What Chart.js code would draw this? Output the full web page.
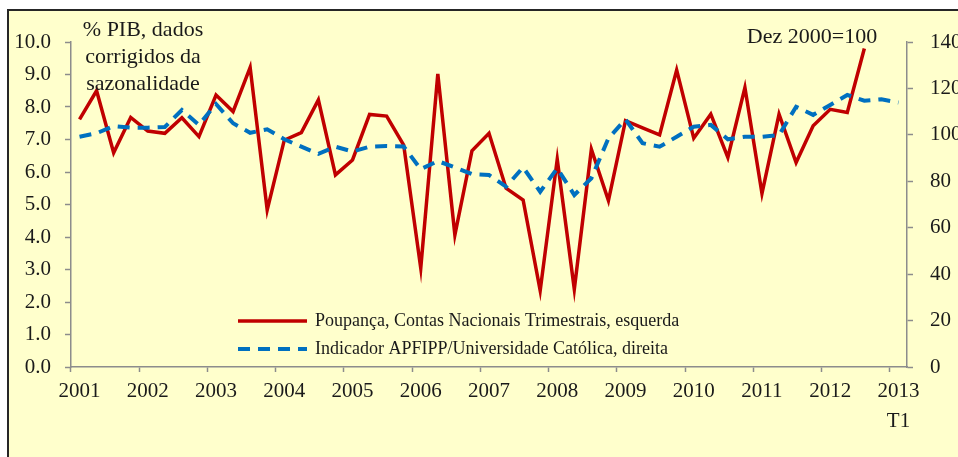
<!DOCTYPE html>
<html>
<head>
<meta charset="utf-8">
<title>Poupança</title>
<script src="https://cdn.jsdelivr.net/npm/chart.js@4.4.1/dist/chart.umd.min.js"></script>
<style>
  body { margin: 0; background: #fff; }
</style>
</head>
<body>
<canvas id="grafico" width="958" height="457"></canvas>
<script>
// anos e trimestres (eixo x)
const anos = ['2001','2002','2003','2004','2005','2006','2007','2008','2009','2010','2011','2012','2013'];
const trimestres = ['T1','T2','T3','T4'];
const categorias = anos.flatMap(a => trimestres.map(t => a + ' ' + t)).slice(0, 49);

// Poupança, Contas Nacionais Trimestrais (% PIB), eixo esquerdo
const poupanca = [7.62, 8.50, 6.59, 7.68, 7.26, 7.19, 7.67, 7.09, 8.37, 7.86,
  9.22, 4.83, 6.98, 7.21, 8.22, 5.91, 6.37, 7.77, 7.72, 6.83,
  3.04, 9.02, 4.06, 6.65, 7.19, 5.50, 5.14, 2.35, 6.39, 2.39,
  6.70, 5.12, 7.58, 7.36, 7.14, 9.14, 7.04, 7.78, 6.45, 8.60,
  5.34, 7.78, 6.29, 7.42, 7.93, 7.83, 9.80];

// Indicador APFIPP/Universidade Católica (Dez 2000=100), eixo direito
const indicador = [99.2, 100.7, 103.8, 103.1, 103.1, 103.4, 110.7, 104.3, 113.3, 105.0,
  100.9, 102.4, 98.1, 94.9, 91.8, 94.9, 92.8, 94.9, 95.2, 95.0,
  85.2, 88.7, 86.0, 83.1, 82.7, 77.7, 86.0, 75.5, 85.6, 74.1,
  81.3, 98.5, 106.7, 96.4, 94.9, 99.2, 103.5, 104.3, 98.1, 99.2,
  99.2, 99.9, 112.1, 108.6, 112.9, 117.2, 114.7, 115.3, 113.9];

const nomesSeries = ['Poupança, Contas Nacionais Trimestrais, esquerda',
                     'Indicador APFIPP/Universidade Católica, direita'];
const tituloEsq = ['% PIB, dados', 'corrigidos da', 'sazonalidade'];
const tituloDir = 'Dez 2000=100';

const VERMELHO = '#C00000';
const AZUL = '#0070C0';
const CINZA = '#8c8c8c';
const TEXTO = '#1a1a1a';
const FONTE = "'Liberation Serif', 'DejaVu Serif', serif";
const TRACEJADO = [12, 8];

// fundo amarelo com moldura
const fundo = {
  id: 'fundo',
  beforeDraw(chart) {
    const c = chart.ctx;
    c.save();
    c.fillStyle = '#ffffff';
    c.fillRect(0, 0, chart.width, chart.height);
    c.fillStyle = '#FFFFCC';
    c.fillRect(8, 10, chart.width, chart.height);
    c.strokeStyle = '#262626';
    c.lineWidth = 2;
    c.beginPath();
    c.moveTo(8, chart.height + 5);
    c.lineTo(8, 10);
    c.lineTo(chart.width + 5, 10);
    c.stroke();
    c.restore();
  }
};

// textos e legenda dentro do gráfico
const anotacoes = {
  id: 'anotacoes',
  afterDraw(chart) {
    const c = chart.ctx;
    c.save();
    c.fillStyle = TEXTO;
    c.font = '22px ' + FONTE;
    c.textAlign = 'center';
    c.textBaseline = 'alphabetic';
    tituloEsq.forEach((t, i) => c.fillText(t, 143, 36 + i * 27));
    c.fillText(tituloDir, 812, 43);

    // legenda
    const itens = [
      { cor: VERMELHO, dash: [], largura: 3.5 },
      { cor: AZUL, dash: TRACEJADO, largura: 4 }
    ];
    c.textAlign = 'left';
    c.textBaseline = 'middle';
    c.font = '18px ' + FONTE;
    itens.forEach((it, i) => {
      const y = 321 + i * 28;
      c.strokeStyle = it.cor;
      c.lineWidth = it.largura;
      c.setLineDash(it.dash);
      c.beginPath();
      c.moveTo(238, y);
      c.lineTo(307, y);
      c.stroke();
      c.setLineDash([]);
      c.fillText(nomesSeries[i], 315, y);
    });
    c.restore();
  }
};

new Chart(document.getElementById('grafico'), {
  type: 'line',
  data: {
    labels: categorias,
    datasets: [{
      label: nomesSeries[0],
      data: poupanca,
      yAxisID: 'yEsq',
      borderColor: VERMELHO,
      borderWidth: 3.5,
      pointRadius: 0,
      tension: 0,
      order: 1
    }, {
      label: nomesSeries[1],
      data: indicador,
      yAxisID: 'yDir',
      borderColor: AZUL,
      borderWidth: 4,
      borderDash: TRACEJADO,
      pointRadius: 0,
      tension: 0,
      order: 0
    }]
  },
  options: {
    responsive: false,
    animation: false,
    layout: { padding: { top: 42, left: 0, right: 0, bottom: 0 } },
    plugins: { legend: { display: false }, tooltip: { enabled: false } },
    scales: {
      x: {
        offset: true,
        afterFit: s => { s.height = 90; },
        border: { color: CINZA, width: 1.5 },
        grid: {
          offset: true,
          drawOnChartArea: false,
          tickLength: 5,
          tickWidth: 1.5,
          tickColor: ctx => (ctx.index !== undefined && ctx.index % 4 === 0) ? CINZA : 'rgba(0,0,0,0)'
        },
        ticks: {
          autoSkip: false,
          maxRotation: 0,
          minRotation: 0,
          padding: 5,
          color: TEXTO,
          font: { family: FONTE, size: 21, lineHeight: 1.4 },
          callback: function (v, i) {
            if (i % 4 !== 0) return '';
            const ano = anos[i / 4];
            return ano === '2013' ? [ano, 'T1'] : ano;
          }
        }
      },
      yEsq: {
        position: 'left',
        min: 0,
        max: 10,
        afterFit: s => { s.width = 71; },
        border: { color: CINZA, width: 1.5 },
        grid: { drawOnChartArea: false, tickLength: 6, tickWidth: 1.5, tickColor: CINZA },
        ticks: {
          stepSize: 1,
          padding: 14,
          color: TEXTO,
          font: { family: FONTE, size: 21 },
          callback: v => v.toFixed(1)
        }
      },
      yDir: {
        position: 'right',
        min: 0,
        max: 140,
        afterFit: s => { s.width = 51; },
        border: { color: CINZA, width: 1.5 },
        grid: { drawOnChartArea: false, tickLength: 6, tickWidth: 1.5, tickColor: CINZA },
        ticks: {
          stepSize: 20,
          padding: 17,
          color: TEXTO,
          font: { family: FONTE, size: 21 }
        }
      }
    }
  },
  plugins: [fundo, anotacoes]
});
</script>
</body>
</html>
